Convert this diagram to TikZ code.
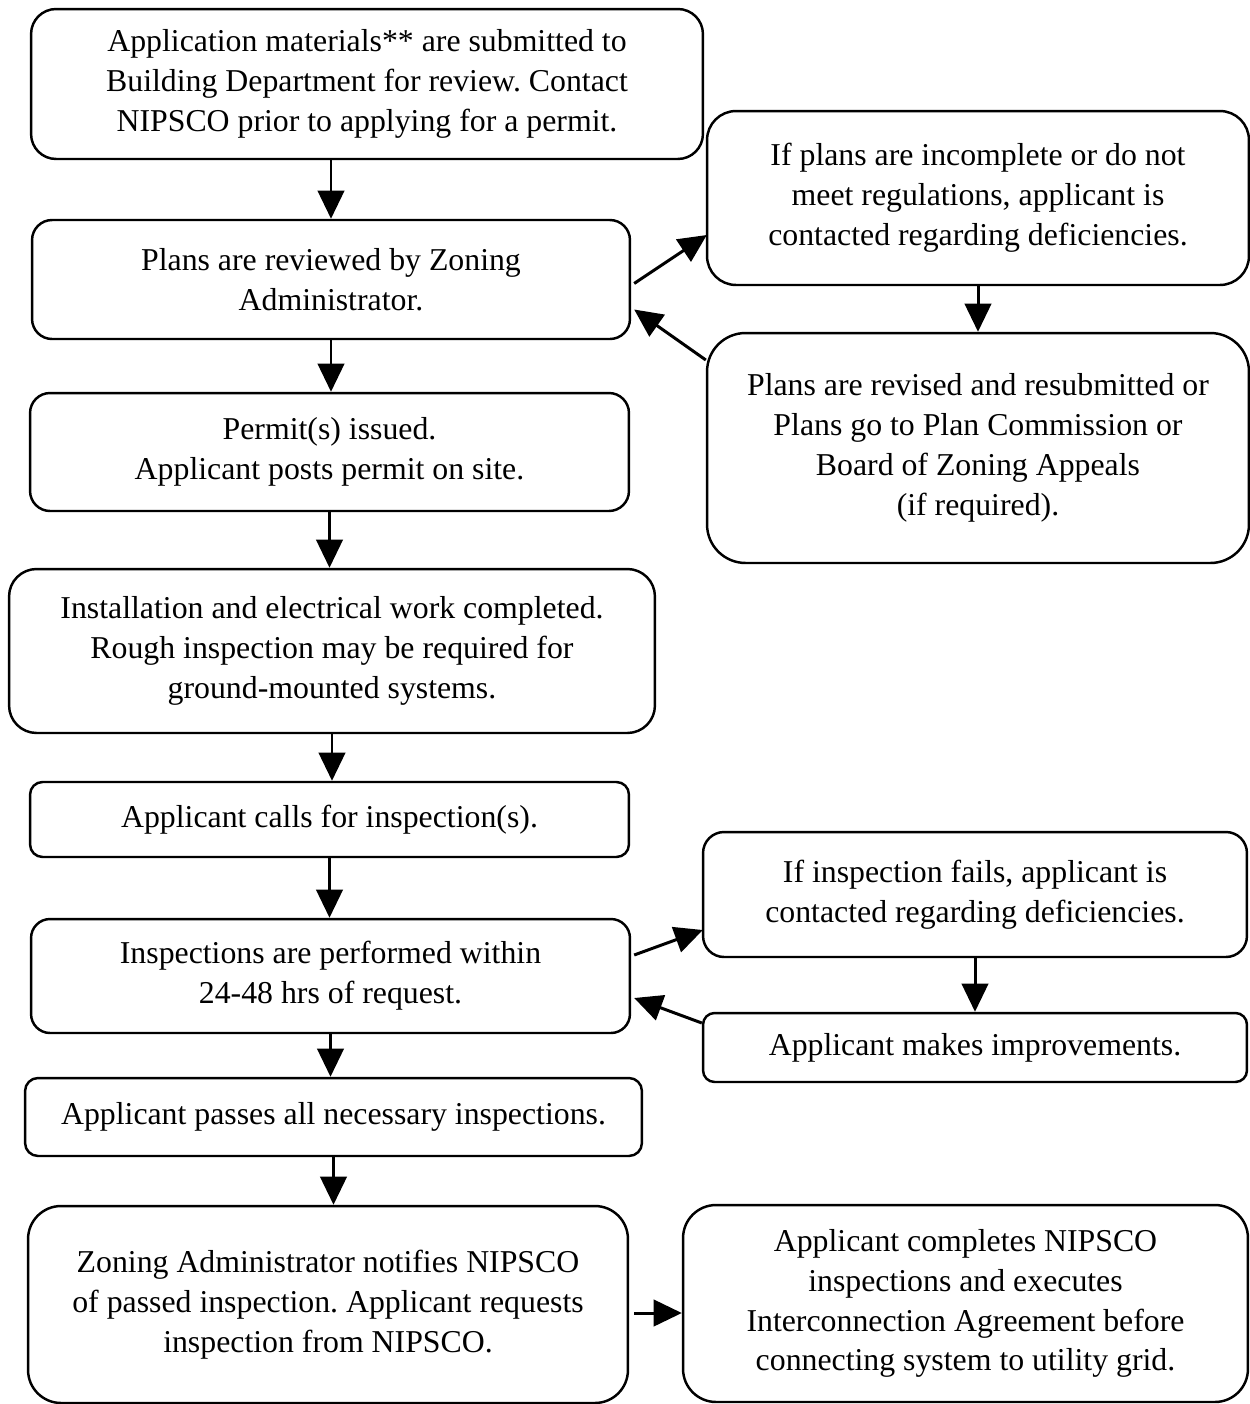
\documentclass[tikz,border=0pt]{standalone}
\usepackage{fontspec}
\setmainfont{Liberation Serif}
\usetikzlibrary{positioning, arrows.meta}
\frenchspacing

\begin{document}
\begin{tikzpicture}[x=0.02cm, y=-0.02cm]
          \useasboundingbox (0,0) rectangle (1250,1404);
          \begin{scope}[every node/.style={draw, line width=1.4pt, align=center, inner sep=0pt,
              font=\fontsize{18.1}{22.7}\selectfont}]
            \node (s1) [minimum width=13.44cm, minimum height=3cm, rounded corners=0.5cm] at (367, 84)
              {Application materials** are submitted to\\Building Department for review. Contact\\NIPSCO prior to applying for a permit.};
            \node (s2) [minimum width=11.96cm, minimum height=2.38cm, rounded corners=0.4cm] at (331, 279.5)
              {Plans are reviewed by Zoning\\Administrator.};
            \node (s3) [minimum width=11.98cm, minimum height=2.36cm, rounded corners=0.4cm] at (329.5, 452)
              {Permit(s) issued.\\Applicant posts permit on site.};
            \node (s4) [minimum width=12.92cm, minimum height=3.28cm, rounded corners=0.55cm] at (332, 651)
              {Installation and electrical work completed.\\Rough inspection may be required for\\ground-mounted systems.};
            \node (s5) [minimum width=11.98cm, minimum height=1.5cm, rounded corners=0.25cm] at (329.5, 819.5)
              {Applicant calls for inspection(s).};
            \node (s6) [minimum width=11.98cm, minimum height=2.28cm, rounded corners=0.38cm] at (330.5, 976)
              {Inspections are performed within\\24-48 hrs of request.};
            \node (s7) [minimum width=12.34cm, minimum height=1.56cm, rounded corners=0.26cm] at (333.5, 1117)
              {Applicant passes all necessary inspections.};
            \node (s8) [minimum width=12cm, minimum height=3.94cm, rounded corners=0.66cm] at (328, 1304.5)
              {Zoning Administrator notifies NIPSCO\\of passed inspection. Applicant requests\\inspection from NIPSCO.};
          \end{scope}
          \begin{scope}[every node/.style={draw, line width=1.4pt, align=center, inner sep=0pt,
              font=\fontsize{18.1}{22.7}\selectfont}]
            \node (r1) [minimum width=10.84cm, minimum height=3.48cm, rounded corners=0.58cm] at (978, 198)
              {If plans are incomplete or do not\\meet regulations, applicant is\\contacted regarding deficiencies.};
            \node (r2) [minimum width=10.84cm, minimum height=4.6cm, rounded corners=0.77cm] at (978, 448)
              {Plans are revised and resubmitted or\\Plans go to Plan Commission or\\Board of Zoning Appeals\\(if required).};
            \node (r3) [minimum width=10.88cm, minimum height=2.5cm, rounded corners=0.42cm] at (975, 894.5)
              {If inspection fails, applicant is\\contacted regarding deficiencies.};
            \node (r4) [minimum width=10.88cm, minimum height=1.38cm, rounded corners=0.23cm] at (975, 1047.5)
              {Applicant makes improvements.};
            \node (r5) [minimum width=11.3cm, minimum height=3.94cm, rounded corners=0.66cm] at (965.5, 1303.5)
              {Applicant completes NIPSCO\\inspections and executes\\Interconnection Agreement before\\connecting system to utility grid.};
          \end{scope}
          \coordinate (h1) at ([shift={(5,8.5)}]s8.east);
          \begin{scope}[line width=1.7pt, -{Triangle[length=16pt, width=15pt]}]
            \path (s1.south -| s2.north) edge (s2.north);
            \path (s2.south) edge (s2.south |- s3.north);
            \path (s3.south) edge (s3.south |- s4.north);
            \path (s4.south) edge (s4.south |- s5.north);
            \path (s5.south) edge (s5.south |- s6.north);
            \path (s6.south) edge (s6.south |- s7.north);
            \path (s7.south) edge (s7.south |- s8.north);
            \path (h1) edge (h1 -| r5.west);
            \path (r1.south) edge (r1.south |- r2.north);
            \path (r3.south) edge (r3.south |- r4.north);
            \path ([shift={(3,4)}]s2.east) edge ([shift={(1,37)}]r1.west);
            \path ([shift={(0,-88)}]r2.west) edge ([shift={(3,30)}]s2.east);
            \path ([shift={(3,-21)}]s6.east) edge ([shift={(1,35.5)}]r3.west);
            \path ([shift={(0,-24.5)}]r4.west) edge ([shift={(3,22)}]s6.east);
          \end{scope}
        \end{tikzpicture}
\end{document}
